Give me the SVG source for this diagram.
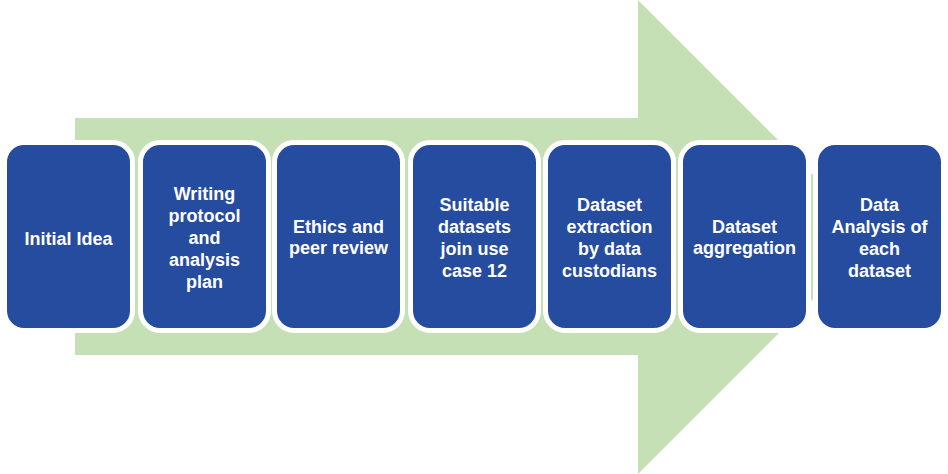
<svg xmlns="http://www.w3.org/2000/svg" width="948" height="474" viewBox="0 0 948 474">
<style>
.box{fill:#264CA0;stroke:#FFFFFF;stroke-width:10;paint-order:stroke}
.t{font-family:"Liberation Sans",Arial,sans-serif;font-weight:bold;font-size:18px;fill:#FFFFFF;text-anchor:middle}
</style>
<rect width="948" height="474" fill="#FFFFFF"/>
<g id="arrow">
<polygon points="75,118 638,118 638,0 875,237 638,474 638,355 75,355" fill="#C5E0B4"/>
</g>
<g id="connectors"></g>
<g id="n1"><rect class="box" x="7" y="145" width="123" height="183" rx="17"/>
<text class="t" x="68.5" y="245">Initial Idea</text></g>
<g id="n2"><rect class="box" x="143" y="145" width="123" height="183" rx="17"/>
<text class="t" x="204.5" y="200">Writing</text>
<text class="t" x="204.5" y="222">protocol</text>
<text class="t" x="204.5" y="244">and</text>
<text class="t" x="204.5" y="266">analysis</text>
<text class="t" x="204.5" y="288">plan</text></g>
<g id="n3"><rect class="box" x="277" y="145" width="123" height="183" rx="17"/>
<text class="t" x="338.5" y="232.5">Ethics and</text>
<text class="t" x="338.5" y="254">peer review</text></g>
<g id="n4"><rect class="box" x="413" y="145" width="123" height="183" rx="17"/>
<text class="t" x="474.5" y="211">Suitable</text>
<text class="t" x="474.5" y="232.5">datasets</text>
<text class="t" x="474.5" y="254.5">join use</text>
<text class="t" x="474.5" y="276.5">case 12</text></g>
<g id="n5"><rect class="box" x="548" y="145" width="123" height="183" rx="17"/>
<text class="t" x="609.5" y="211">Dataset</text>
<text class="t" x="609.5" y="232.5">extraction</text>
<text class="t" x="609.5" y="254.5">by data</text>
<text class="t" x="609.5" y="276.5">custodians</text></g>
<g id="n6"><rect class="box" x="683" y="145" width="123" height="183" rx="17"/>
<text class="t" x="744.5" y="232.5">Dataset</text>
<text class="t" x="744.5" y="254">aggregation</text></g>
<g id="n7"><rect class="box" x="818" y="145" width="123" height="183" rx="17"/>
<text class="t" x="879.5" y="211">Data</text>
<text class="t" x="879.5" y="232.5">Analysis of</text>
<text class="t" x="879.5" y="254.5">each</text>
<text class="t" x="879.5" y="276.5">dataset</text></g>
</svg>
